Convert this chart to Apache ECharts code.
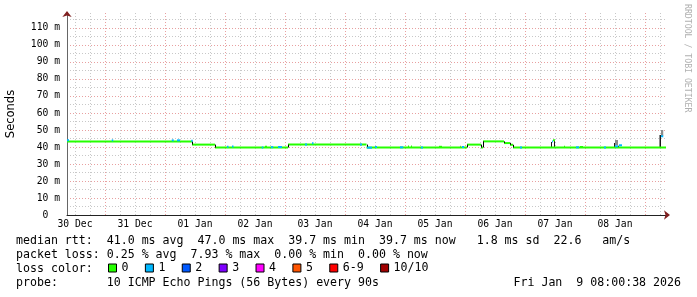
<!DOCTYPE html>
<html><head><meta charset="utf-8">
<script src="https://cdn.jsdelivr.net/npm/echarts@6/dist/echarts.min.js"></script>
<style>html,body{margin:0;padding:0;background:#fff}#c{width:697px;height:297px}</style>
</head><body><div id="c"></div>
<script>
// x values are hours since 30 Dec 00:00
const axisStartHour = 8.8;
const axisEndHour = 248.8;
const dayLabels = ['30 Dec','31 Dec','01 Jan','02 Jan','03 Jan','04 Jan','05 Jan','06 Jan','07 Jan','08 Jan'];
const dayLabelHours = [12,36,60,84,108,132,156,180,204,228];
const midnightHours = [24,48,72,96,120,144,168,192,216,240];
const sixHourTicks = [12,18,30,36,42,54,60,66,78,84,90,102,108,114,126,132,138,150,156,162,174,180,186,198,204,210,222,228,234,246];
const yMax = 118.8;

// median rtt (ms), base segments (loss 0)
const baseStart = [8.8, 58.8, 68.0, 97.2, 128.6, 168.8, 174.4, 175.2, 183.6, 186.0, 187.2];
const baseEnd   = [58.8, 68.0, 97.2, 128.6, 168.8, 174.4, 175.2, 183.6, 186.0, 187.2, 248.4];
const baseValue = [43.3, 41.4, 39.7, 41.4, 39.7, 41.4, 39.7, 43.3, 42.3, 41.3, 39.7];

// median samples with their loss class (index into lossNames)
const spotStart = [8.8, 26.7, 50.7, 52.8, 58.5, 72.8, 74.8, 86.7, 88.0, 90.4, 93.2, 104.0, 106.8, 126.0, 128.8, 132.0, 142.0, 145.2, 146.4, 150.4, 157.6, 166.8, 190.0, 202.8, 203.2, 207.6, 212.4, 214.0, 223.6, 228.0, 229.6, 246.4];
const spotEnd   = [9.6, 27.3, 51.5, 54.0, 59.1, 73.4, 75.4, 87.3, 88.8, 91.3, 94.8, 104.8, 107.4, 126.8, 130.8, 132.8, 143.3, 145.6, 146.8, 151.2, 158.8, 167.6, 190.8, 203.2, 204.0, 208.0, 213.6, 215.2, 224.4, 229.2, 230.8, 247.3];
const spotValue = [43.9, 43.9, 43.9, 43.9, 43.6, 40.2, 40.3, 39.7, 40.2, 39.9, 40.0, 41.5, 42.2, 41.4, 39.6, 40.0, 39.8, 40.3, 40.3, 39.7, 40.1, 40.0, 39.7, 43.3, 43.9, 40.2, 39.8, 40.0, 39.7, 40.4, 41.0, 46.3];
const spotLoss  = [1, 1, 1, 1, 1, 1, 1, 1, 0, 1, 1, 1, 1, 1, 1, 1, 1, 0, 0, 1, 0, 1, 1, 1, 0, 0, 1, 0, 1, 1, 1, 1];

// smoke (ping spread), shade 0 = dark, 1 = light
const smokeStart = [93.6, 166.0, 202.4, 203.6, 227.6, 228.0, 229.2, 245.8, 246.4];
const smokeEnd   = [94.0, 166.4, 202.8, 204.0, 228.0, 229.2, 229.6, 246.4, 247.3];
const smokeLow   = [39.7, 39.8, 39.7, 39.7, 39.7, 41.0, 39.7, 39.7, 46.5];
const smokeHigh  = [40.6, 40.7, 42.9, 43.6, 42.3, 44.1, 40.8, 47.0, 50.0];
const smokeShade = [1, 1, 0, 0, 0, 1, 0, 0, 1];

const lossNames = ['0','1','2','3','4','5','6-9','10/10'];
const lossColors = ['#26ff00','#00b8ff','#0059ff','#7e00ff','#ff00ff','#ff5500','#ff0000','#a10000'];
const shadeColors = ['#1a1a1a','#8c8c8c'];

const statLines = [
  'median rtt:  41.0 ms avg  47.0 ms max  39.7 ms min  39.7 ms now   1.8 ms sd  22.6   am/s',
  'packet loss: 0.25 % avg  7.93 % max  0.00 % min  0.00 % now',
  'loss color:',
  'probe:       10 ICMP Echo Pings (56 Bytes) every 90s'
];
const dateText = 'Fri Jan  9 08:00:38 2026';
const watermark = 'RRDTOOL / TOBI OETIKER';
const yName = 'Seconds';

const MONO = 'DejaVu Sans Mono';
const chart = echarts.init(document.getElementById('c'), null, {renderer: 'canvas'});

const baseData = baseStart.map((s, i) => [s, baseEnd[i], baseValue[i], 0, i === 0 ? baseValue[i] : baseValue[i - 1]]);
const spotData = spotStart.map((s, i) => [s, spotEnd[i], spotValue[i], spotLoss[i]]);
const smokeData = smokeStart.map((s, i) => [s, smokeEnd[i], smokeLow[i], smokeHigh[i], smokeShade[i]]);

function segRender(params, api) {
  const x0 = api.value(0), x1 = api.value(1), v = api.value(2), pv = api.value(4);
  const a = api.coord([x0, v]), b = api.coord([x1, v]);
  const children = [{
    type: 'rect',
    shape: {x: a[0], y: a[1] - 1, width: Math.max(b[0] - a[0], 1), height: 2},
    style: {fill: lossColors[api.value(3)]}
  }];
  if (!isNaN(pv) && pv !== v) {
    const p = api.coord([x0, pv]);
    const xx = Math.round(a[0]) + 0.5;
    children.push({type: 'line', shape: {x1: xx, y1: p[1], x2: xx, y2: a[1]}, style: {stroke: '#000', lineWidth: 1}});
  }
  return {type: 'group', children};
}
function smokeRender(params, api) {
  const a = api.coord([api.value(0), api.value(3)]);
  const b = api.coord([api.value(1), api.value(2)]);
  return {type: 'rect', shape: {x: a[0], y: a[1], width: Math.max(b[0] - a[0], 1), height: b[1] - a[1]},
          style: {fill: shadeColors[api.value(4)]}};
}

const grid = {left: 67, top: 13, width: 600, height: 202, outerBoundsMode: 'none', containLabel: false};
const option = {
  animation: false,
  backgroundColor: '#ffffff',
  grid: grid,
  xAxis: [
    {
      type: 'value', min: axisStartHour, max: axisEndHour, position: 'bottom',
      axisLine: {show: true, onZero: false, lineStyle: {color: '#222', width: 1}},
      axisTick: {show: false, customValues: midnightHours},
      axisLabel: {
        customValues: dayLabelHours, margin: 4, color: '#000', fontFamily: MONO, fontSize: 9.7,
        formatter: v => dayLabels[dayLabelHours.indexOf(v)] || ''
      },
      splitLine: {show: true, lineStyle: {color: '#e8a0a0', type: [1, 2], width: 1}}
    },
    {
      type: 'value', min: axisStartHour, max: axisEndHour, position: 'bottom',
      axisLine: {show: false}, axisLabel: {show: false},
      axisTick: {show: false, customValues: sixHourTicks},
      splitLine: {show: true, lineStyle: {color: '#c8c8c8', type: [1, 2], width: 1}}
    },
    {
      type: 'value', min: axisStartHour, max: axisEndHour, position: 'bottom',
      axisLine: {show: true, onZero: false, symbol: ['none', 'arrow'], symbolSize: [7, 6], symbolOffset: [0, 3],
                 lineStyle: {color: '#7f1f1f', width: 0}},
      axisTick: {show: false}, axisLabel: {show: false}, splitLine: {show: false}
    }
  ],
  yAxis: [
    {
      type: 'value', min: 0, max: yMax, interval: 10, position: 'left',
      name: yName, nameLocation: 'middle', nameGap: 50, nameRotate: 90,
      nameTextStyle: {fontFamily: 'DejaVu Sans', fontSize: 11.5, color: '#000'},
      axisLine: {show: true, onZero: false, lineStyle: {color: '#666', width: 1}},
      axisTick: {show: false},
      axisLabel: {margin: 7, color: '#000', fontFamily: MONO, fontSize: 9.7, showMaxLabel: false,
                  formatter: v => (v > 112 ? '' : (v === 0 ? '0\u00a0\u00a0' : v + ' m'))},
      splitLine: {show: true, showMinLine: false, showMaxLine: false, lineStyle: {color: '#e8a0a0', type: [1, 2], width: 1}},
      minorTick: {show: false, splitNumber: 2},
      minorSplitLine: {show: true, lineStyle: {color: '#c8c8c8', type: [1, 2], width: 1}}
    },
    {
      type: 'value', min: 0, max: yMax, position: 'left',
      axisLine: {show: true, onZero: false, symbol: ['none', 'arrow'], symbolSize: [7, 6], symbolOffset: [0, 2],
                 lineStyle: {color: '#7f1f1f', width: 0}},
      axisTick: {show: false}, axisLabel: {show: false}, splitLine: {show: false}
    }
  ],
  legend: {
    left: 108, top: 262, padding: 0, itemWidth: 8, itemHeight: 8, itemGap: 16.4, icon: 'rect',
    selectedMode: false, data: lossNames,
    itemStyle: {borderColor: '#000', borderWidth: 1},
    textStyle: {fontFamily: MONO, fontSize: 11.6, color: '#000'}
  },
  graphic: [
    {type: 'text', x: 16, y: 241, style: {text: statLines[0], fontFamily: MONO, fontSize: 11.6, fill: '#000', verticalAlign: 'middle'}},
    {type: 'text', x: 16, y: 255, style: {text: statLines[1], fontFamily: MONO, fontSize: 11.6, fill: '#000', verticalAlign: 'middle'}},
    {type: 'text', x: 16, y: 269, style: {text: statLines[2], fontFamily: MONO, fontSize: 11.6, fill: '#000', verticalAlign: 'middle'}},
    {type: 'text', x: 16, y: 283, style: {text: statLines[3], fontFamily: MONO, fontSize: 11.6, fill: '#000', verticalAlign: 'middle'}},
    {type: 'text', x: 681, y: 283, style: {text: dateText, fontFamily: MONO, fontSize: 11.6, fill: '#000', align: 'right', verticalAlign: 'middle'}},
    {type: 'text', x: 687, y: 4, rotation: -Math.PI / 2, style: {text: watermark, fontFamily: MONO, fontSize: 8.2, fill: '#b0b0b0', align: 'left', verticalAlign: 'middle'}}
  ],
  series: [
    {type: 'custom', name: 'smoke', xAxisIndex: 0, yAxisIndex: 0, renderItem: smokeRender, data: smokeData,
     encode: {x: [0, 1], y: [2, 3]}, clip: true, z: 3},
    {type: 'custom', name: 'median', xAxisIndex: 0, yAxisIndex: 0, renderItem: segRender, data: baseData,
     encode: {x: [0, 1], y: [2]}, clip: true, z: 4},
    {type: 'custom', name: 'samples', xAxisIndex: 0, yAxisIndex: 0, renderItem: segRender, data: spotData,
     encode: {x: [0, 1], y: [2]}, clip: true, z: 5}
  ].concat(lossNames.map((n, i) => ({
    type: 'bar', name: n, data: [], xAxisIndex: 0, yAxisIndex: 0,
    itemStyle: {color: lossColors[i], borderColor: '#000', borderWidth: 1}
  })))
};
chart.setOption(option);
</script>
</body></html>
